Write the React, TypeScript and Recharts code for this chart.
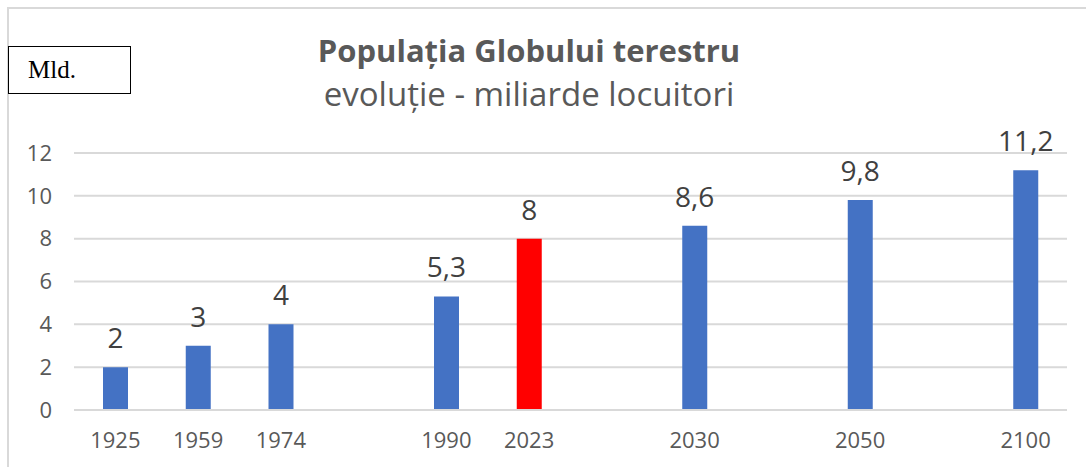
import React from "react";
import { BarChart, Bar, XAxis, YAxis, CartesianGrid, LabelList, Cell } from "recharts";

const years: (string | null)[] = ["1925", "1959", "1974", null, "1990", "2023", null, "2030", null, "2050", null, "2100"];
const values: (number | null)[] = [2, 3, 4, null, 5.3, 8, null, 8.6, null, 9.8, null, 11.2];
const highlight: boolean[] = [false, false, false, false, false, true, false, false, false, false, false, false];
const yTicks = [0, 2, 4, 6, 8, 10, 12];

const title = "Populația Globului terestru";
const subtitle = "evoluție - miliarde locuitori";
const unitLabel = "Mld.";

const data = years.map((y, i) => ({
  key: y ?? `gap${i}`,
  label: y ?? "",
  value: values[i],
  hl: highlight[i],
}));

const FONT = "'Open Sans', sans-serif";

export default function App() {
  return (
    <div style={{ position: "absolute", left: 0, top: 0, width: 1086, height: 467, overflow: "hidden", background: "#fff" }}>
      <div style={{ position: "absolute", left: 7, top: 7, width: 1200, height: 600, border: "2px solid #d9d9d9", boxSizing: "border-box" }} />
      <div style={{ position: "absolute", left: 0, top: 0, width: 1086, textAlign: "center", fontFamily: FONT, color: "#595959" }}>
        <div style={{ position: "absolute", left: 0, width: 1058, top: 32, fontSize: 31, fontWeight: 700, lineHeight: "36px", whiteSpace: "nowrap" }}>{title}</div>
        <div style={{ position: "absolute", left: 0, width: 1058, top: 76, fontSize: 33, fontWeight: 400, lineHeight: "36px", whiteSpace: "nowrap" }}>{subtitle}</div>
      </div>
      <div style={{ position: "absolute", left: 8, top: 46, width: 123, height: 48, border: "1px solid #000", boxSizing: "border-box", fontFamily: "'Liberation Serif', serif", fontSize: 25, lineHeight: "46px", paddingLeft: 19, color: "#000" }}>
        {unitLabel}
      </div>
      <div style={{ position: "absolute", left: 0, top: 0 }}>
        <BarChart width={1086} height={467} data={data} margin={{ top: 153, right: 19, bottom: 27, left: 20 }}>
          <CartesianGrid vertical={false} stroke="#d9d9d9" strokeWidth={2} />
          <XAxis
            dataKey="key"
            tickFormatter={(v: string) => (v.startsWith("gap") ? "" : v)}
            axisLine={{ stroke: "#d9d9d9", strokeWidth: 2 }}
            tickLine={false}
            tickSize={0}
            tickMargin={22}
            height={30}
            interval={0}
            tick={{ fill: "#595959", fontSize: 22, fontFamily: FONT }}
          />
          <YAxis
            domain={[0, 12]}
            ticks={yTicks}
            axisLine={false}
            tickLine={false}
            tickSize={0}
            tickMargin={22}
            width={54}
            tick={{ fill: "#595959", fontSize: 22, fontFamily: FONT }}
          />
          <Bar dataKey="value" barSize={25} isAnimationActive={false}>
            {data.map((d, i) => (
              <Cell key={i} fill={d.hl ? "#ff0000" : "#4472c4"} />
            ))}
            <LabelList
              dataKey="value"
              position="top"
              offset={19}
              formatter={(v: any) => (v == null ? "" : String(v).replace(".", ","))}
              style={{ fill: "#404040", fontSize: 28, fontFamily: FONT }}
            />
          </Bar>
        </BarChart>
      </div>
    </div>
  );
}
